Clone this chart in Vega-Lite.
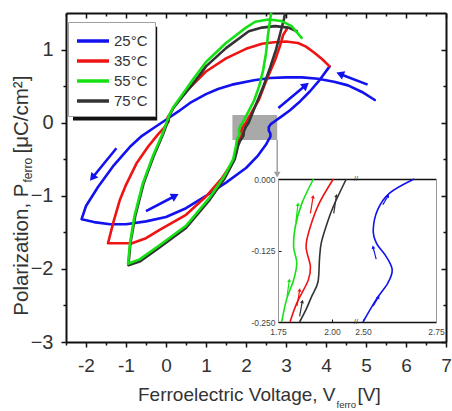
{
  "$schema": "https://vega.github.io/schema/vega-lite/v6.json",
  "width": 380,
  "height": 329,
  "autosize": {"type": "none"},
  "padding": {"left": 66, "top": 13, "right": 6, "bottom": 69},
  "config": {
    "font": "Liberation Sans",
    "view": {"stroke": null},
    "axis": {"labelFont": "Liberation Sans", "titleFont": "Liberation Sans", "titleFontWeight": "normal", "grid": false, "labelColor": "#333333", "titleColor": "#333333", "tickColor": "#111111", "domainColor": "#111111", "domainWidth": 2, "tickWidth": 1.5, "labelFlush": false, "labelOverlap": false}
  },
  "datasets": {
    "curves": [
      {"T":"25°C","i":0,"x":5.22,"y":0.31},{"T":"25°C","i":1,"x":4.9,"y":0.42},{"T":"25°C","i":2,"x":4.55,"y":0.51},{"T":"25°C","i":3,"x":4.2,"y":0.56},{"T":"25°C","i":4,"x":3.8,"y":0.6},{"T":"25°C","i":5,"x":3.4,"y":0.62},{"T":"25°C","i":6,"x":3.0,"y":0.62},{"T":"25°C","i":7,"x":2.6,"y":0.61},{"T":"25°C","i":8,"x":2.2,"y":0.58},{"T":"25°C","i":9,"x":1.65,"y":0.52},{"T":"25°C","i":10,"x":1.3,"y":0.46},{"T":"25°C","i":11,"x":1.0,"y":0.39},{"T":"25°C","i":12,"x":0.6,"y":0.27},{"T":"25°C","i":13,"x":0.3,"y":0.15},{"T":"25°C","i":14,"x":0.0,"y":0.04},{"T":"25°C","i":15,"x":-0.3,"y":-0.07},{"T":"25°C","i":16,"x":-0.6,"y":-0.18},{"T":"25°C","i":17,"x":-0.9,"y":-0.33},{"T":"25°C","i":18,"x":-1.3,"y":-0.58},{"T":"25°C","i":19,"x":-1.7,"y":-0.88},{"T":"25°C","i":20,"x":-2.0,"y":-1.14},{"T":"25°C","i":21,"x":-2.11,"y":-1.32},{"T":"25°C","i":22,"x":-1.8,"y":-1.36},{"T":"25°C","i":23,"x":-1.4,"y":-1.39},{"T":"25°C","i":24,"x":-1.0,"y":-1.39},{"T":"25°C","i":25,"x":-0.5,"y":-1.35},{"T":"25°C","i":26,"x":0.0,"y":-1.29},{"T":"25°C","i":27,"x":0.5,"y":-1.17},{"T":"25°C","i":28,"x":1.0,"y":-1.0},{"T":"25°C","i":29,"x":1.5,"y":-0.82},{"T":"25°C","i":30,"x":2.0,"y":-0.62},{"T":"25°C","i":31,"x":2.3,"y":-0.45},{"T":"25°C","i":32,"x":2.5,"y":-0.3},{"T":"25°C","i":33,"x":2.56,"y":-0.24},{"T":"25°C","i":34,"x":2.61,"y":-0.19},{"T":"25°C","i":35,"x":2.61,"y":-0.15},{"T":"25°C","i":36,"x":2.57,"y":-0.11},{"T":"25°C","i":37,"x":2.57,"y":-0.06},{"T":"25°C","i":38,"x":2.62,"y":-0.02},{"T":"25°C","i":39,"x":2.72,"y":0.02},{"T":"25°C","i":40,"x":2.9,"y":0.09},{"T":"25°C","i":41,"x":3.1,"y":0.17},{"T":"25°C","i":42,"x":3.35,"y":0.29},{"T":"25°C","i":43,"x":3.6,"y":0.43},{"T":"25°C","i":44,"x":3.85,"y":0.59},{"T":"25°C","i":45,"x":4.09,"y":0.77},
      {"T":"35°C","i":0,"x":4.09,"y":0.77},{"T":"35°C","i":1,"x":3.9,"y":0.87},{"T":"35°C","i":2,"x":3.7,"y":0.96},{"T":"35°C","i":3,"x":3.5,"y":1.04},{"T":"35°C","i":4,"x":3.3,"y":1.09},{"T":"35°C","i":5,"x":3.0,"y":1.11},{"T":"35°C","i":6,"x":2.7,"y":1.1},{"T":"35°C","i":7,"x":2.4,"y":1.08},{"T":"35°C","i":8,"x":2.0,"y":1.01},{"T":"35°C","i":9,"x":1.5,"y":0.88},{"T":"35°C","i":10,"x":1.0,"y":0.7},{"T":"35°C","i":11,"x":0.5,"y":0.43},{"T":"35°C","i":12,"x":0.2,"y":0.22},{"T":"35°C","i":13,"x":0.1,"y":0.12},{"T":"35°C","i":14,"x":0.04,"y":0.07},{"T":"35°C","i":15,"x":0.07,"y":0.02},{"T":"35°C","i":16,"x":-0.05,"y":-0.07},{"T":"35°C","i":17,"x":-0.2,"y":-0.16},{"T":"35°C","i":18,"x":-0.45,"y":-0.33},{"T":"35°C","i":19,"x":-0.74,"y":-0.56},{"T":"35°C","i":20,"x":-1.0,"y":-0.85},{"T":"35°C","i":21,"x":-1.15,"y":-1.05},{"T":"35°C","i":22,"x":-1.32,"y":-1.37},{"T":"35°C","i":23,"x":-1.45,"y":-1.65},{"T":"35°C","i":24,"x":-0.85,"y":-1.65},{"T":"35°C","i":25,"x":-0.5,"y":-1.58},{"T":"35°C","i":26,"x":-0.17,"y":-1.47},{"T":"35°C","i":27,"x":0.5,"y":-1.26},{"T":"35°C","i":28,"x":1.0,"y":-1.01},{"T":"35°C","i":29,"x":1.4,"y":-0.76},{"T":"35°C","i":30,"x":1.65,"y":-0.55},{"T":"35°C","i":31,"x":1.76,"y":-0.4},{"T":"35°C","i":32,"x":1.806,"y":-0.25},{"T":"35°C","i":33,"x":1.837,"y":-0.217},{"T":"35°C","i":34,"x":1.89,"y":-0.177},{"T":"35°C","i":35,"x":1.9,"y":-0.153},{"T":"35°C","i":36,"x":1.88,"y":-0.118},{"T":"35°C","i":37,"x":1.9,"y":-0.083},{"T":"35°C","i":38,"x":1.94,"y":-0.043},{"T":"35°C","i":39,"x":2.006,"y":0.0},{"T":"35°C","i":40,"x":2.15,"y":0.15},{"T":"35°C","i":41,"x":2.32,"y":0.31},{"T":"35°C","i":42,"x":2.48,"y":0.54},{"T":"35°C","i":43,"x":2.62,"y":0.72},{"T":"35°C","i":44,"x":2.73,"y":0.86},{"T":"35°C","i":45,"x":2.85,"y":1.05},{"T":"35°C","i":46,"x":2.93,"y":1.2},{"T":"35°C","i":47,"x":3.02,"y":1.28},
      {"T":"75°C","i":0,"x":3.27,"y":1.25},{"T":"75°C","i":1,"x":3.06,"y":1.3},{"T":"75°C","i":2,"x":2.73,"y":1.32},{"T":"75°C","i":3,"x":2.4,"y":1.3},{"T":"75°C","i":4,"x":2.07,"y":1.25},{"T":"75°C","i":5,"x":1.5,"y":1.02},{"T":"75°C","i":6,"x":1.0,"y":0.77},{"T":"75°C","i":7,"x":0.66,"y":0.52},{"T":"75°C","i":8,"x":0.4,"y":0.35},{"T":"75°C","i":9,"x":0.17,"y":0.19},{"T":"75°C","i":10,"x":0.1,"y":0.11},{"T":"75°C","i":11,"x":0.06,"y":0.04},{"T":"75°C","i":12,"x":-0.06,"y":-0.14},{"T":"75°C","i":13,"x":-0.31,"y":-0.46},{"T":"75°C","i":14,"x":-0.56,"y":-0.83},{"T":"75°C","i":15,"x":-0.77,"y":-1.28},{"T":"75°C","i":16,"x":-0.89,"y":-1.65},{"T":"75°C","i":17,"x":-0.94,"y":-1.95},{"T":"75°C","i":18,"x":-0.66,"y":-1.9},{"T":"75°C","i":19,"x":-0.17,"y":-1.71},{"T":"75°C","i":20,"x":0.5,"y":-1.44},{"T":"75°C","i":21,"x":1.07,"y":-1.07},{"T":"75°C","i":22,"x":1.47,"y":-0.76},{"T":"75°C","i":23,"x":1.72,"y":-0.5},{"T":"75°C","i":24,"x":1.8,"y":-0.32},{"T":"75°C","i":25,"x":1.85,"y":-0.25},{"T":"75°C","i":26,"x":1.905,"y":-0.206},{"T":"75°C","i":27,"x":1.935,"y":-0.18},{"T":"75°C","i":28,"x":1.95,"y":-0.112},{"T":"75°C","i":29,"x":2.006,"y":-0.048},{"T":"75°C","i":30,"x":2.066,"y":0.0},{"T":"75°C","i":31,"x":2.25,"y":0.25},{"T":"75°C","i":32,"x":2.45,"y":0.52},{"T":"75°C","i":33,"x":2.6,"y":0.75},{"T":"75°C","i":34,"x":2.75,"y":1.0},{"T":"75°C","i":35,"x":2.87,"y":1.25},{"T":"75°C","i":36,"x":2.95,"y":1.42},{"T":"75°C","i":37,"x":2.98,"y":1.5},
      {"T":"55°C","i":0,"x":3.39,"y":1.16},{"T":"55°C","i":1,"x":3.14,"y":1.32},{"T":"55°C","i":2,"x":2.89,"y":1.39},{"T":"55°C","i":3,"x":2.56,"y":1.41},{"T":"55°C","i":4,"x":2.23,"y":1.38},{"T":"55°C","i":5,"x":2.0,"y":1.3},{"T":"55°C","i":6,"x":1.5,"y":1.09},{"T":"55°C","i":7,"x":1.0,"y":0.83},{"T":"55°C","i":8,"x":0.66,"y":0.58},{"T":"55°C","i":9,"x":0.4,"y":0.38},{"T":"55°C","i":10,"x":0.17,"y":0.2},{"T":"55°C","i":11,"x":0.08,"y":0.1},{"T":"55°C","i":12,"x":0.04,"y":0.04},{"T":"55°C","i":13,"x":-0.08,"y":-0.14},{"T":"55°C","i":14,"x":-0.33,"y":-0.46},{"T":"55°C","i":15,"x":-0.58,"y":-0.83},{"T":"55°C","i":16,"x":-0.79,"y":-1.28},{"T":"55°C","i":17,"x":-0.9,"y":-1.65},{"T":"55°C","i":18,"x":-0.95,"y":-1.93},{"T":"55°C","i":19,"x":-0.66,"y":-1.87},{"T":"55°C","i":20,"x":-0.17,"y":-1.68},{"T":"55°C","i":21,"x":0.5,"y":-1.41},{"T":"55°C","i":22,"x":1.07,"y":-1.04},{"T":"55°C","i":23,"x":1.45,"y":-0.74},{"T":"55°C","i":24,"x":1.68,"y":-0.5},{"T":"55°C","i":25,"x":1.75,"y":-0.32},{"T":"55°C","i":26,"x":1.767,"y":-0.25},{"T":"55°C","i":27,"x":1.79,"y":-0.21},{"T":"55°C","i":28,"x":1.822,"y":-0.177},{"T":"55°C","i":29,"x":1.837,"y":-0.147},{"T":"55°C","i":30,"x":1.822,"y":-0.118},{"T":"55°C","i":31,"x":1.83,"y":-0.083},{"T":"55°C","i":32,"x":1.86,"y":-0.043},{"T":"55°C","i":33,"x":1.914,"y":0.0},{"T":"55°C","i":34,"x":2.05,"y":0.14},{"T":"55°C","i":35,"x":2.2,"y":0.3},{"T":"55°C","i":36,"x":2.33,"y":0.5},{"T":"55°C","i":37,"x":2.43,"y":0.72},{"T":"55°C","i":38,"x":2.5,"y":0.95},{"T":"55°C","i":39,"x":2.55,"y":1.2},{"T":"55°C","i":40,"x":2.6,"y":1.4},{"T":"55°C","i":41,"x":2.63,"y":1.5}
    ],
    "arrows": [
      {"x":-1.24,"y":-0.35,"x2":-1.82,"y2":-0.74},
      {"x":-0.5,"y":-1.21,"x2":0.2,"y2":-1.01},
      {"x":2.81,"y":0.2,"x2":3.47,"y2":0.5},
      {"x":5.04,"y":0.52,"x2":4.38,"y2":0.66}
    ],
    "inset": [
      {"T":"25°C","i":0,"x":2.5,"y":-0.25},{"T":"25°C","i":1,"x":2.546,"y":-0.21},{"T":"25°C","i":2,"x":2.585,"y":-0.182},{"T":"25°C","i":3,"x":2.6,"y":-0.159},{"T":"25°C","i":4,"x":2.58,"y":-0.136},{"T":"25°C","i":5,"x":2.546,"y":-0.112},{"T":"25°C","i":6,"x":2.535,"y":-0.089},{"T":"25°C","i":7,"x":2.55,"y":-0.054},{"T":"25°C","i":8,"x":2.59,"y":-0.025},{"T":"25°C","i":9,"x":2.675,"y":0.0},
      {"T":"35°C","i":0,"x":1.806,"y":-0.25},{"T":"35°C","i":1,"x":1.837,"y":-0.217},{"T":"35°C","i":2,"x":1.89,"y":-0.177},{"T":"35°C","i":3,"x":1.9,"y":-0.153},{"T":"35°C","i":4,"x":1.88,"y":-0.118},{"T":"35°C","i":5,"x":1.9,"y":-0.083},{"T":"35°C","i":6,"x":1.94,"y":-0.043},{"T":"35°C","i":7,"x":2.006,"y":0.0},
      {"T":"75°C","i":0,"x":1.85,"y":-0.25},{"T":"75°C","i":1,"x":1.88,"y":-0.228},{"T":"75°C","i":2,"x":1.905,"y":-0.206},{"T":"75°C","i":3,"x":1.935,"y":-0.18},{"T":"75°C","i":4,"x":1.942,"y":-0.14},{"T":"75°C","i":5,"x":1.95,"y":-0.112},{"T":"75°C","i":6,"x":1.975,"y":-0.08},{"T":"75°C","i":7,"x":2.006,"y":-0.048},{"T":"75°C","i":8,"x":2.066,"y":0.0},
      {"T":"55°C","i":0,"x":1.767,"y":-0.25},{"T":"55°C","i":1,"x":1.79,"y":-0.21},{"T":"55°C","i":2,"x":1.822,"y":-0.177},{"T":"55°C","i":3,"x":1.837,"y":-0.147},{"T":"55°C","i":4,"x":1.822,"y":-0.118},{"T":"55°C","i":5,"x":1.83,"y":-0.083},{"T":"55°C","i":6,"x":1.86,"y":-0.043},{"T":"55°C","i":7,"x":1.914,"y":0.0}
    ],
    "insetArrows": [
      {"T":"55°C","x":1.833,"y":-0.075,"x2":1.842,"y2":-0.045},
      {"T":"55°C","x":1.792,"y":-0.205,"x2":1.802,"y2":-0.178},
      {"T":"35°C","x":1.9,"y":-0.06,"x2":1.912,"y2":-0.032},
      {"T":"35°C","x":1.838,"y":-0.222,"x2":1.85,"y2":-0.195},
      {"T":"75°C","x":2.008,"y":-0.06,"x2":2.02,"y2":-0.03},
      {"T":"75°C","x":1.85,"y":-0.24,"x2":1.862,"y2":-0.215},
      {"T":"25°C","x":2.568,"y":-0.045,"x2":2.585,"y2":-0.03},
      {"T":"25°C","x":2.545,"y":-0.14,"x2":2.535,"y2":-0.12},
      {"T":"25°C","x":2.535,"y":-0.222,"x2":2.552,"y2":-0.207}
    ]
  },
  "resolve": {"scale": {"x": "independent", "y": "independent"}},
  "layer": [
    {
      "resolve": {"axis": {"x": "independent", "y": "independent"}},
      "layer": [
        {
          "data": {"values": [{}]},
          "mark": {"type": "rect", "fill": "#111111"},
          "encoding": {
            "x": {"datum": -2.325, "type": "quantitative", "scale": {"domain": [-2.5, 7], "nice": false, "zero": false},
                  "axis": {"orient": "bottom", "labels": false, "ticks": false, "domain": false, "title": "[V]", "titleFontSize": 19, "titleX": 291, "titleY": 58, "titleAlign": "left", "titleBaseline": "alphabetic"}},
            "x2": {"datum": -0.22},
            "y": {"datum": 1.313, "type": "quantitative", "scale": {"domain": [-3, 1.5], "nice": false, "zero": false},
                  "axis": {"orient": "left", "labels": false, "ticks": false, "domain": false, "title": "[μC/cm²]", "titleFontSize": 20.5, "titleAngle": 270, "titleX": -39, "titleY": 140, "titleAlign": "left", "titleBaseline": "alphabetic"}},
            "y2": {"datum": 0.03}
          }
        },
        {
          "data": {"values": [{}]},
          "mark": {"type": "rect", "fill": "#a9a9a9"},
          "encoding": {
            "x": {"datum": 1.66, "type": "quantitative", "scale": {"domain": [-2.5, 7], "nice": false, "zero": false},
                  "axis": {"orient": "top", "values": [-2.5, -1.5, -0.5, 0.5, 1.5, 2.5, 3.5, 4.5, 5.5, 6.5], "labels": false, "domain": false, "tickSize": -3, "title": null}},
            "x2": {"datum": 2.78},
            "y": {"datum": 0.105, "type": "quantitative", "scale": {"domain": [-3, 1.5], "nice": false, "zero": false},
                  "axis": {"orient": "right", "values": [-2.5, -1.5, -0.5, 0.5], "labels": false, "domain": false, "tickSize": -3, "title": null}},
            "y2": {"datum": -0.237}
          }
        },
        {
          "data": {"values": [{}]},
          "mark": {"type": "rule", "stroke": "#a0a0a0", "strokeWidth": 1.5},
          "encoding": {
            "x": {"datum": 2.78, "type": "quantitative", "scale": {"domain": [-2.5, 7], "nice": false, "zero": false}, "axis": null},
            "y": {"datum": -0.237, "type": "quantitative", "scale": {"domain": [-3, 1.5], "nice": false, "zero": false}, "axis": null},
            "y2": {"datum": -0.69}
          }
        },
        {
          "data": {"values": [{}]},
          "mark": {"type": "point", "shape": "triangle-down", "filled": true, "fill": "#a0a0a0", "size": 45, "opacity": 1},
          "encoding": {
            "x": {"datum": 2.78, "type": "quantitative", "scale": {"domain": [-2.5, 7], "nice": false, "zero": false}, "axis": null},
            "y": {"datum": -0.71, "type": "quantitative", "scale": {"domain": [-3, 1.5], "nice": false, "zero": false}, "axis": null}
          }
        },
        {
          "data": {"name": "curves"},
          "mark": {"type": "line", "strokeWidth": 2.6, "strokeJoin": "round", "strokeCap": "round", "clip": true},
          "encoding": {
            "x": {"field": "x", "type": "quantitative", "scale": {"domain": [-2.5, 7], "nice": false, "zero": false},
                  "axis": {"orient": "bottom", "values": [-2, -1, 0, 1, 2, 3, 4, 5, 6, 7], "labelExpr": "toString(datum.value)", "labelFontSize": 19, "labelPadding": 9, "tickSize": 5,
                           "title": "Ferroelectric Voltage, V", "titleFontSize": 19, "titleX": 269, "titleY": 58, "titleAlign": "right", "titleBaseline": "alphabetic"}},
            "y": {"field": "y", "type": "quantitative", "scale": {"domain": [-3, 1.5], "nice": false, "zero": false},
                  "axis": {"orient": "left", "values": [-3, -2, -1, 0, 1], "labelFontSize": 20, "labelPadding": 8, "tickSize": 5,
                           "title": "Polarization, P", "titleFontSize": 20.5, "titleAngle": 270, "titleX": -39, "titleY": 170, "titleAlign": "right", "titleBaseline": "alphabetic"}},
            "color": {"field": "T", "type": "nominal", "title": null,
                      "scale": {"domain": ["25°C", "35°C", "55°C", "75°C"], "range": ["#1212ee", "#ee1414", "#14e014", "#333333"]},
                      "legend": {"orient": "none", "legendX": 2, "legendY": 9, "padding": 7, "fillColor": "#ffffff", "strokeColor": "#a0a0a0",
                                 "symbolType": "M-1,0H2.2", "symbolSize": 400, "symbolStrokeWidth": 3.5, "labelFont": "Liberation Sans", "labelFontSize": 15,
                                 "labelColor": "#333333", "labelOffset": 15, "rowPadding": 0}},
            "order": {"field": "i", "type": "quantitative"}
          }
        },
        {
          "data": {"name": "arrows"},
          "mark": {"type": "rule", "stroke": "#1212ee", "strokeWidth": 2.6},
          "encoding": {
            "x": {"field": "x", "type": "quantitative", "scale": {"domain": [-2.5, 7], "nice": false, "zero": false},
                  "axis": {"orient": "bottom", "values": [-2.5, -1.5, -0.5, 0.5, 1.5, 2.5, 3.5, 4.5, 5.5, 6.5], "labels": false, "domain": false, "tickSize": 3,
                           "title": "ferro", "titleFontSize": 9.5, "titleX": 270, "titleY": 65, "titleAlign": "left", "titleBaseline": "alphabetic"}},
            "y": {"field": "y", "type": "quantitative", "scale": {"domain": [-3, 1.5], "nice": false, "zero": false},
                  "axis": {"orient": "left", "values": [-2.5, -1.5, -0.5, 0.5], "labels": false, "domain": false, "tickSize": 3,
                           "title": "ferro", "titleFontSize": 12, "titleAngle": 270, "titleX": -35, "titleY": 169, "titleAlign": "left", "titleBaseline": "alphabetic"}},
            "x2": {"field": "x2"},
            "y2": {"field": "y2"}
          }
        },
        {
          "data": {"name": "arrows"},
          "transform": [{"calculate": "(360 + atan2((datum.x2 - datum.x) * 40.0, (datum.y2 - datum.y) * 73.1) * 180 / PI) % 360", "as": "ang"}],
          "mark": {"type": "point", "shape": "triangle", "filled": true, "fill": "#1212ee", "size": 80, "opacity": 1},
          "encoding": {
            "x": {"field": "x2", "type": "quantitative", "scale": {"domain": [-2.5, 7], "nice": false, "zero": false},
                  "axis": {"orient": "top", "values": [-2, -1, 0, 1, 2, 3, 4, 5, 6, 7], "labels": false, "tickSize": -5, "title": null}},
            "y": {"field": "y2", "type": "quantitative", "scale": {"domain": [-3, 1.5], "nice": false, "zero": false},
                  "axis": {"orient": "right", "values": [-3, -2, -1, 0, 1], "labels": false, "tickSize": -5, "title": null}},
            "angle": {"field": "ang", "type": "quantitative", "scale": null}
          }
        }
      ]
    },
    {
      "resolve": {"axis": {"x": "independent", "y": "independent"}},
      "layer": [
        {
          "data": {"name": "inset"},
          "mark": {"type": "line", "strokeWidth": 1.6, "interpolate": "cardinal"},
          "encoding": {
            "x": {"field": "x", "type": "quantitative", "scale": {"domain": [1.75, 2.111, 2.476, 2.75], "range": [212, 290, 290, 370], "nice": false, "zero": false},
                  "axis": {"orient": "bottom", "offset": -20, "values": [1.75, 2.0, 2.5, 2.75], "format": ".2f", "labelFontSize": 8.5, "labelColor": "#444444", "labelPadding": 8, "tickSize": -3, "tickWidth": 1, "domainWidth": 1.5, "title": null}},
            "y": {"field": "y", "type": "quantitative", "scale": {"domain": [-0.25, 0], "range": [309, 166], "nice": false, "zero": false},
                  "axis": {"orient": "left", "offset": -212, "values": [0, -0.125, -0.25], "format": ".3f", "labelExpr": "replace(datum.label, '−', '-')", "labelFontSize": 8.5, "labelColor": "#444444", "labelPadding": 6, "tickSize": -3, "tickWidth": 1, "domainWidth": 1, "domainColor": "#999999", "title": null}},
            "color": {"field": "T", "type": "nominal", "title": null,
                      "scale": {"domain": ["25°C", "35°C", "55°C", "75°C"], "range": ["#1212ee", "#ee1414", "#14e014", "#333333"]}},
            "order": {"field": "i", "type": "quantitative"}
          }
        },
        {
          "data": {"name": "insetArrows"},
          "mark": {"type": "rule", "strokeWidth": 1.2},
          "encoding": {
            "x": {"field": "x", "type": "quantitative", "scale": {"domain": [1.75, 2.111, 2.476, 2.75], "range": [212, 290, 290, 370], "nice": false, "zero": false},
                  "axis": {"orient": "top", "offset": -166, "ticks": false, "labels": false, "domainWidth": 1.5, "title": null}},
            "y": {"field": "y", "type": "quantitative", "scale": {"domain": [-0.25, 0], "range": [309, 166], "nice": false, "zero": false},
                  "axis": {"orient": "right", "offset": -10, "ticks": false, "labels": false, "domainWidth": 1, "domainColor": "#999999", "title": null}},
            "x2": {"field": "x2"},
            "y2": {"field": "y2"},
            "color": {"field": "T", "type": "nominal", "title": null,
                      "scale": {"domain": ["25°C", "35°C", "55°C", "75°C"], "range": ["#1212ee", "#ee1414", "#14e014", "#333333"]}}
          }
        },
        {
          "data": {"name": "insetArrows"},
          "transform": [{"calculate": "(360 + atan2((datum.x2 - datum.x) * (datum.x > 2.3 ? 296 : 216), (datum.y2 - datum.y) * 572) * 180 / PI) % 360", "as": "ang"}],
          "mark": {"type": "point", "shape": "triangle", "filled": true, "size": 16, "opacity": 1},
          "encoding": {
            "x": {"field": "x2", "type": "quantitative", "scale": {"domain": [1.75, 2.111, 2.476, 2.75], "range": [212, 290, 290, 370], "nice": false, "zero": false}, "axis": null},
            "y": {"field": "y2", "type": "quantitative", "scale": {"domain": [-0.25, 0], "range": [309, 166], "nice": false, "zero": false}, "axis": null},
            "angle": {"field": "ang", "type": "quantitative", "scale": null},
            "color": {"field": "T", "type": "nominal", "title": null,
                      "scale": {"domain": ["25°C", "35°C", "55°C", "75°C"], "range": ["#1212ee", "#ee1414", "#14e014", "#333333"]}}
          }
        },
        {
          "data": {"values": [{}]},
          "mark": {"type": "text", "text": "//", "fontSize": 8, "color": "#444444", "baseline": "middle", "align": "center"},
          "encoding": {
            "x": {"datum": 2.3, "type": "quantitative", "scale": {"domain": [1.75, 2.111, 2.476, 2.75], "range": [212, 290, 290, 370], "nice": false, "zero": false}, "axis": null},
            "y": {"datum": 0, "type": "quantitative", "scale": {"domain": [-0.25, 0], "range": [309, 166], "nice": false, "zero": false}, "axis": null}
          }
        },
        {
          "data": {"values": [{}]},
          "mark": {"type": "text", "text": "//", "fontSize": 8, "color": "#444444", "baseline": "middle", "align": "center"},
          "encoding": {
            "x": {"datum": 2.3, "type": "quantitative", "scale": {"domain": [1.75, 2.111, 2.476, 2.75], "range": [212, 290, 290, 370], "nice": false, "zero": false}, "axis": null},
            "y": {"datum": -0.25, "type": "quantitative", "scale": {"domain": [-0.25, 0], "range": [309, 166], "nice": false, "zero": false}, "axis": null}
          }
        }
      ]
    }
  ]
}
